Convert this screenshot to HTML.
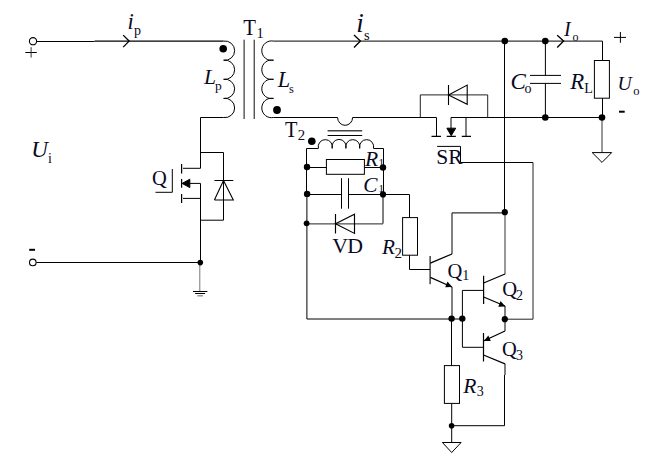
<!DOCTYPE html>
<html><head><meta charset="utf-8">
<style>
html,body{margin:0;padding:0;background:#fff;}
body{width:654px;height:456px;overflow:hidden;}
svg{display:block;}
text{font-family:"Liberation Serif",serif;fill:#0a0a1e;}
.it{font-style:italic;}
</style></head><body>
<svg width="654" height="456" viewBox="0 0 654 456">
<rect x="0" y="0" width="654" height="456" fill="#fff"/>
<g fill="none" stroke="#000" stroke-width="1">
<!-- ===== PRIMARY SIDE ===== -->
<!-- top wire -->
<path d="M36.5 41.5H94.5"/>
<path d="M94.5 41.1H223.6" stroke-width="1.05"/>
<!-- ip chevron -->
<path d="M123.2 35.1L129.1 41.1L123.2 47.1" stroke-width="1.35"/>
<!-- primary coil -->
<path d="M223.6 41.1A9.65 9.65 0 1 1 223.6 60.2A9.65 9.65 0 1 1 223.6 79.3A9.65 9.65 0 1 1 223.6 98.4A9.65 9.65 0 1 1 223.6 117.5"/>
<!-- core -->
<path d="M244.1 39.7V119M254.2 39.7V119" stroke="#000" stroke-width="0.95"/>
<!-- primary bottom + mosfet drain -->
<path d="M223.6 117.5H200.5V168.3H183"/>
<!-- diode branch -->
<path d="M200.5 152.5H223.5V220.2H200.5"/>
<path d="M214.4 180.5H233.3M214.4 200H233.3L223.5 180.5L214.4 200" stroke-width="1.1"/>
<!-- mosfet channel -->
<path d="M181.6 164.1V173.6M181.6 178.9V187.8M181.6 194V202.9" stroke-width="1.2"/>
<path d="M189.8 183.4H200.5V262.5M183 198.4H200.5"/>
<path d="M199.8 262.5V291.5" stroke="#777"/>
<path d="M182.1 183.4L189.8 179.2L189.8 187.6Z" fill="#000"/>
<!-- gate -->
<path d="M172.3 169V192.3H155.5"/>
<!-- bottom wire -->
<path d="M36.3 262.5H200.5"/>
<!-- ground -->
<path d="M193 291.5H207.4M195.1 293.5H205.1"/>
<path d="M197.3 295.8H202.9" stroke="#888" stroke-width="1.3"/>
<!-- terminals -->
<circle cx="33" cy="41.2" r="3.6" fill="#fff" stroke-width="1.1"/>
<circle cx="32.8" cy="262.4" r="3.3" fill="#fff" stroke-width="1.1"/>
<path d="M25.3 52.5H36.8"/><path d="M31.1 47.2V57.6" stroke="#333"/>
<path d="M29.2 249.8H35" stroke-width="2"/>

<!-- ===== SECONDARY SIDE ===== -->
<!-- secondary coil -->
<path d="M602.5 41.1H273.5A9.75 9.75 0 1 0 273.5 60.2A9.75 9.75 0 1 0 273.5 79.3A9.75 9.75 0 1 0 273.5 98.4A9.75 9.75 0 1 0 273.5 117.5"/>
<!-- is chevron -->
<path d="M354 35L360.4 41.1L354 47.5" stroke-width="1.35"/>
<!-- Io chevron -->
<path d="M557.2 35.2L563.6 41.1L557.2 47.4" stroke-width="1.35"/>
<!-- bottom wire with T2 dip -->
<path d="M273.5 117.5H337.6A7.5 7.8 0 0 0 352.6 117.5H436.5V136.1"/>
<path d="M451 128.2V117.5H602.5"/>
<!-- diode bypass -->
<path d="M420.3 117.5V94.9H487.7V117.5" stroke="#222"/>
<path d="M448.5 84.9V105M467.2 85.1V104.3L448.5 94.9Z" stroke-width="1.1"/>
<!-- SR mosfet -->
<path d="M431.5 136.3H441M446.7 136.3H455.8M461.8 136.3H471" stroke-width="1.2"/>
<path d="M466 117.5V136.1"/>
<path d="M446.9 128.2H455.7L451.2 135.7Z" fill="#000"/>
<!-- SR gate -->
<path d="M437.1 146.4H460.5V162.5H533"/>
<path d="M533 162.5V319.2H505" stroke="#222"/>
<!-- RL -->
<path d="M602.5 41.1V60.5M602.5 98.2V117.5"/><path d="M602 117.5V152.6" stroke="#333"/>
<rect x="594.4" y="60.5" width="15" height="37.7"/>
<path d="M592.2 152.6H611.7L602 162.4Z"/>
<!-- Co -->
<path d="M545.4 41.1V75.4M530 75.4H561M530 83.4H561M545.4 83.4V117.5"/>
<!-- vertical 505 -->
<path d="M504.5 41.1V212.2"/>
<path d="M505 212.2V274.2" stroke="#333"/>
<!-- T2 -->
<path d="M327.6 130.7H362.2" stroke="#444" stroke-width="1.4"/>
<path d="M327.6 135.5H362.2"/>
<path d="M318.4 148.4A7.1 7.1 0 1 1 332.2 148.4A7.1 7.1 0 1 1 345.9 148.4A7.1 7.1 0 1 1 359.7 148.4A7.1 7.1 0 1 1 373.5 148.4"/>
<path d="M318.4 148.5H306.5V194"/>
<path d="M306.9 194V319H462.4V347.3H483.5M462.4 290.4V319"/>
<path d="M373.5 148.5H383.5V194.4"/>
<path d="M383 194.4V223.6"/>
<!-- R1 -->
<path d="M306.6 167.5H326.4M364.4 167.5H383.5"/>
<rect x="326.4" y="159.5" width="38" height="14.8"/>
<!-- C1 -->
<path d="M306.6 194.5H341.5M348.5 194.5H409.5V217.6M341.5 178.2V208.7M348.5 178.2V208.7"/>
<!-- VD -->
<path d="M306.6 223.9H383" stroke="#222"/>
<path d="M335.5 214V233.6M354.5 214.2V233.4L335.5 223.8Z" stroke-width="1.15"/>
<!-- R2 -->
<rect x="402.6" y="217.6" width="14.9" height="37.6"/>
<path d="M409.5 255.2V269.5H430.1"/>
<!-- Q1 -->
<path d="M430.1 255.9V284.2" stroke-width="1.1"/>
<path d="M430.3 263.1L452 254" stroke-width="1.3"/><path d="M452 254V212.9H504.7"/>
<path d="M430.3 277.4L452 287" stroke-width="1.3"/><path d="M452 287V318.6"/>
<path d="M451.5 318.6V365.6"/>
<!-- Q2 -->
<path d="M462.4 290.4H483.6" />
<path d="M483.6 275.7V304.1" stroke-width="1.2"/>
<path d="M483.6 283L505 274" stroke-width="1.3"/>
<path d="M483.6 297L505 306" stroke-width="1.3"/><path d="M505 306V319.2"/>
<!-- Q3 -->
<path d="M483.5 333V361.5" stroke-width="1.2"/>
<path d="M505 319.2V331"/><path d="M505 331L483.5 341" stroke-width="1.3"/>
<path d="M483.5 355L505 363.8" stroke-width="1.3"/><path d="M505 363.8V375"/>
<path d="M504.5 375V425.7H451.7"/>
<!-- R3 -->
<rect x="444.4" y="365.6" width="15.1" height="37.8"/>
<path d="M451.7 403.4V442.5"/>
<path d="M442.4 442.5H461.1L451.7 452.5Z"/>
</g>
<!-- arrowheads on BJTs -->
<g fill="#000" stroke="none">
<path d="M452.2 287.1L445.2 287.3L447.5 281.6Z"/>
<path d="M505.3 306.5L498.3 306.8L500.6 301Z"/>
<path d="M483.9 340.9L490.8 341L488.3 335.6Z"/>
</g>
<!-- dots -->
<g fill="#000">
<circle cx="223.2" cy="48.8" r="3.8"/>
<circle cx="277" cy="110" r="3.9"/>
<circle cx="200.3" cy="262.6" r="2.8"/>
<circle cx="504.8" cy="41.1" r="3.3"/>
<circle cx="545.3" cy="41.1" r="3.3"/>
<circle cx="545.3" cy="117.5" r="3.3"/>
<circle cx="602" cy="117.5" r="3.3"/>
<circle cx="311.8" cy="141.3" r="3.8"/>
<circle cx="307" cy="167" r="3.2"/>
<circle cx="383" cy="167.5" r="3.2"/>
<circle cx="307.1" cy="193.9" r="3.2"/>
<circle cx="383" cy="194.4" r="3.1"/>
<circle cx="306.6" cy="223.3" r="2.9"/>
<circle cx="504.8" cy="212.2" r="3.1"/>
<circle cx="451.6" cy="318.6" r="3.2"/>
<circle cx="462.3" cy="318.6" r="3.2"/>
<circle cx="504.8" cy="319.2" r="3.1"/>
<circle cx="451.6" cy="425.7" r="2.8"/>
</g>
<!-- ===== LABELS ===== -->
<text class="it" x="127.6" y="28.8" font-size="22.5">i</text>
<text x="134" y="34.6" font-size="14">p</text>
<text x="0" y="0" font-size="22.6" transform="translate(243.2 34.9) scale(0.92 1)">T</text>
<text x="256.5" y="37.6" font-size="14.5">1</text>
<text class="it" x="356.3" y="31.7" font-size="27">i</text>
<text x="364" y="39.6" font-size="14.5">s</text>
<text class="it" x="564" y="35.7" font-size="20">I</text>
<text x="572.6" y="40.5" font-size="12">o</text>
<text class="it" x="31.2" y="157" font-size="23">U</text>
<text x="48" y="162.6" font-size="14">i</text>
<text x="152" y="184.8" font-size="20.5">Q</text>
<text class="it" x="204" y="84.4" font-size="21.5">L</text>
<text x="215" y="89.9" font-size="13.5">p</text>
<text class="it" x="277.8" y="86.8" font-size="22.3">L</text>
<text x="289" y="92.9" font-size="12.5">s</text>
<text class="it" x="510.6" y="89.2" font-size="23">C</text>
<text x="524.5" y="92.6" font-size="14">o</text>
<text class="it" x="570.3" y="88.7" font-size="22.8">R</text>
<text x="584.2" y="92.7" font-size="14">L</text>
<text class="it" x="617.4" y="90" font-size="19.6">U</text>
<text x="633.2" y="95" font-size="12.5">o</text>
<text x="0" y="0" font-size="22.6" transform="translate(285.1 136.9) scale(0.9 1)">T</text>
<text x="297.8" y="139.7" font-size="14.8">2</text>
<text x="436.2" y="164.4" font-size="21.5">SR</text>
<text class="it" x="365.1" y="165.5" font-size="21.5">R</text>
<text x="378.5" y="167" font-size="11.5">1</text>
<text class="it" x="363.3" y="191.6" font-size="21.3">C</text>
<text x="378.6" y="192.3" font-size="11">1</text>
<text x="332.2" y="252.7" font-size="21.8" letter-spacing="-0.6">VD</text>
<text class="it" x="382" y="253.8" font-size="21.2">R</text>
<text x="394.5" y="257.5" font-size="15">2</text>
<text x="447.5" y="277.8" font-size="20.5">Q</text>
<text x="462.2" y="280" font-size="14">1</text>
<text x="502.2" y="296.2" font-size="20.6">Q</text>
<text x="516" y="299.7" font-size="14">2</text>
<text x="502" y="356.3" font-size="20.5">Q</text>
<text x="515.9" y="360.3" font-size="14">3</text>
<text class="it" x="463.3" y="392.9" font-size="21.5">R</text>
<text x="476.8" y="396" font-size="14">3</text>
<!-- minus / plus on output -->
<path d="M614 37.4H626M620.4 32V42.8" stroke="#000" stroke-width="1"/>
<path d="M619 111.7H624.7" stroke="#000" stroke-width="2"/>
</svg>
</body></html>
